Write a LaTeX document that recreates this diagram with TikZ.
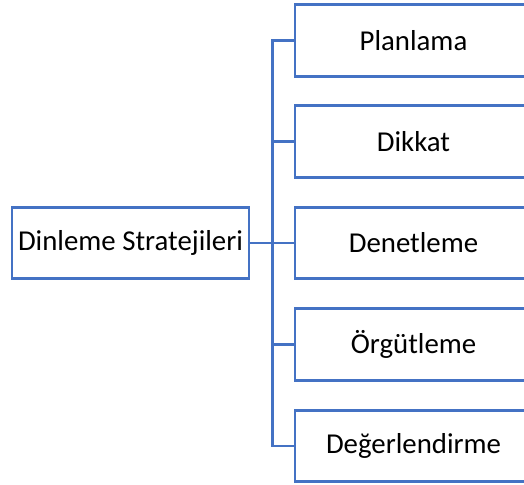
\documentclass[tikz,border=0pt]{standalone}
\usepackage{fontspec}
\setmainfont{Carlito}
\definecolor{ofisblue}{RGB}{68,114,196}
\begin{document}
\begin{tikzpicture}[x=0.02cm,y=-0.02cm,
  kutu/.style={draw=ofisblue,line width=1.6pt,fill=white,minimum width=4.74cm,
    minimum height=1.43cm,inner sep=0pt,font=\fontsize{16.4}{19}\selectfont},
  hat/.style={draw=ofisblue,line width=1.6pt,line cap=rect}]
\useasboundingbox (0,0) rectangle (524,484);
\clip (0,0) rectangle (524,484);
\path
(130.5,243) node[kutu] (ana) {Dinleme Stratejileri}
(413.5,40.5)  node[kutu] (p) {Planlama}
(413.5,141.5) node[kutu] (d) {Dikkat}
(413.5,243)   node[kutu] (n) {Denetleme}
(413.5,344.5) node[kutu] (o) {Örgütleme}
(413.5,446)   node[kutu] (g) {Değerlendirme}
(272.5,243)   coordinate (j);

\draw[hat] (ana.east)--(n.west);
\draw[hat] (j|-p.west)--(j|-g.west);
\draw[hat] (j|-p.west)--(p.west);
\draw[hat] (j|-d.west)--(d.west);
\draw[hat] (j|-o.west)--(o.west);
\draw[hat] (j|-g.west)--(g.west);
\end{tikzpicture}
\end{document}
